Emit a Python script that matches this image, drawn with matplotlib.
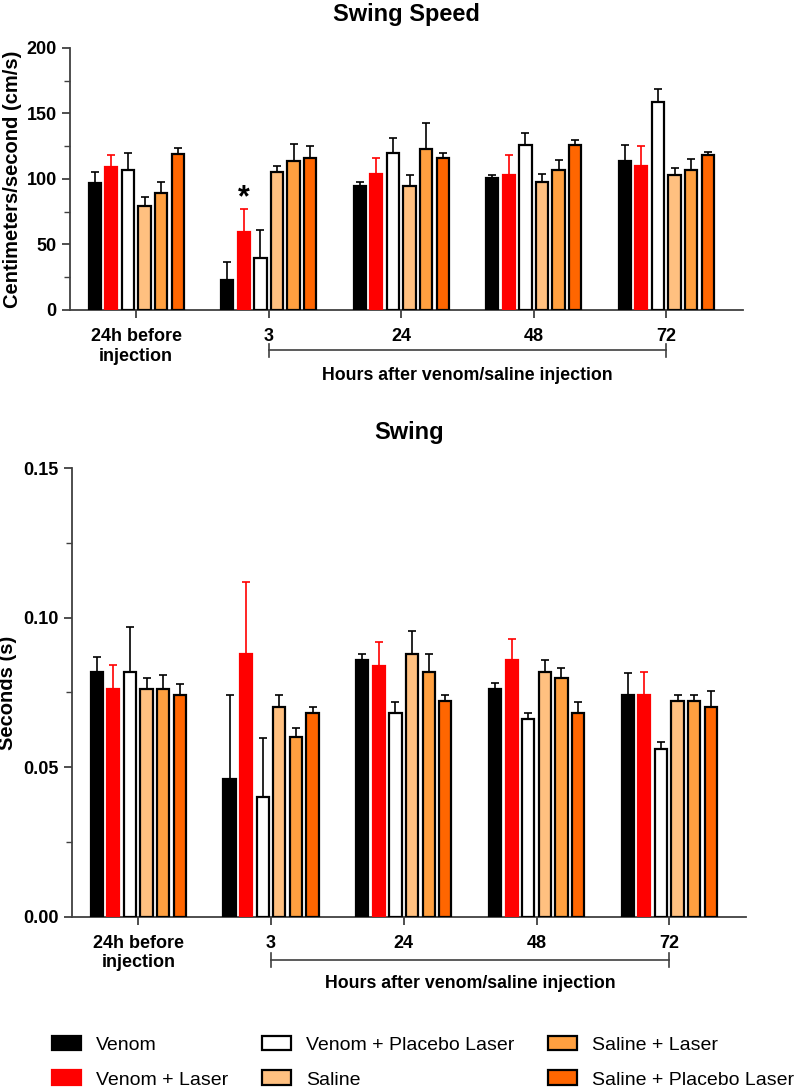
import matplotlib
matplotlib.use("Agg")
import matplotlib.pyplot as plt
import numpy as np
from matplotlib.transforms import blended_transform_factory
from matplotlib.patches import Patch

plt.rcParams['font.family'] = ['Liberation Sans', 'DejaVu Sans']

groups = ["24h before\ninjection", "3", "24", "48", "72"]
series = ["Venom", "Venom + Laser", "Venom + Placebo Laser", "Saline",
          "Saline + Laser", "Saline + Placebo Laser"]
colors = ["#000000", "#FF0000", "#FFFFFF", "#FFC080", "#FFA040", "#FF6600"]
edges = ["#000000", "#FF0000", "#000000", "#000000", "#000000", "#000000"]
errcolors = ["#000000", "#FF0000", "#000000", "#000000", "#000000", "#000000"]

# Swing speed (cm/s): rows = series, cols = groups
speed = [
    [97, 23, 95, 100.6, 113.6],
    [109, 59.4, 104, 103, 110],
    [107, 40, 120, 126, 158.5],
    [79.7, 105, 95, 97.6, 103],
    [89, 114, 122.5, 107, 106.5],
    [119, 116, 116, 126, 118],
]
speed_err = [
    [8.5, 13.5, 3, 2.4, 12],
    [9.5, 17.6, 12, 15, 14.8],
    [13, 21, 11, 9, 10.5],
    [6.3, 5, 8, 6.4, 5.5],
    [8.6, 13, 20, 7.6, 8.5],
    [5, 9, 4, 4, 2.7],
]
# Swing (s)
swing = [
    [0.082, 0.046, 0.086, 0.076, 0.074],
    [0.076, 0.088, 0.084, 0.086, 0.074],
    [0.082, 0.040, 0.068, 0.066, 0.056],
    [0.076, 0.070, 0.088, 0.082, 0.072],
    [0.076, 0.060, 0.082, 0.080, 0.072],
    [0.074, 0.068, 0.072, 0.068, 0.070],
]
swing_err = [
    [0.0048, 0.028, 0.002, 0.0023, 0.0075],
    [0.0082, 0.024, 0.008, 0.0069, 0.008],
    [0.015, 0.0197, 0.0037, 0.0023, 0.0024],
    [0.004, 0.0043, 0.0074, 0.0038, 0.002],
    [0.005, 0.003, 0.0058, 0.0031, 0.002],
    [0.004, 0.002, 0.002, 0.0037, 0.0054],
]

fig = plt.figure(figsize=(7.99, 10.90), dpi=100)
ax1 = fig.add_axes([0.0876, 0.7156, 0.8424, 0.2404])
ax2 = fig.add_axes([0.090, 0.159, 0.844, 0.4114])

x = np.arange(len(groups))
step = 0.125
width = 0.092
spine_c = "#404040"


def draw(ax, vals, errs):
    for i in range(len(series)):
        off = (i - 2.5) * step
        ax.bar(x + off, vals[i], width, color=colors[i], edgecolor=edges[i],
               linewidth=1.6, zorder=3)
        ax.errorbar(x + off, vals[i], yerr=[np.zeros(len(groups)), errs[i]],
                    fmt='none', ecolor=errcolors[i], elinewidth=1.2,
                    capsize=3, capthick=1.2, zorder=2)
    for s in ['top', 'right']:
        ax.spines[s].set_visible(False)
    for s in ['left', 'bottom']:
        ax.spines[s].set_color(spine_c)
        ax.spines[s].set_linewidth(1.3)
    ax.set_xticks(x)
    ax.set_xticklabels(groups, fontweight='bold', fontsize=13)
    ax.tick_params(axis='x', length=6, width=1.3, color=spine_c, pad=7)
    ax.tick_params(axis='y', which='major', length=6, width=1.3, color=spine_c,
                   labelsize=13)
    ax.tick_params(axis='y', which='minor', length=4, width=1.0, color=spine_c)
    ax.set_xlim(-0.5, 4.58)


def bracket(ax, yb, yt, tick=0.025):
    tr = blended_transform_factory(ax.transData, ax.transAxes)
    ax.plot([1, 4], [yb, yb], transform=tr, color=spine_c, lw=1.2, clip_on=False)
    for xx in (1, 4):
        ax.plot([xx, xx], [yb - tick, yb + tick], transform=tr, color=spine_c,
                lw=1.2, clip_on=False)
    ax.text(2.5, yt, "Hours after venom/saline injection", transform=tr,
            ha='center', va='center', fontweight='bold', fontsize=12.8)


draw(ax1, speed, speed_err)
ax1.set_ylim(0, 200)
ax1.set_yticks([0, 50, 100, 150, 200])
ax1.set_yticks([25, 75, 125, 175], minor=True)
for lab in ax1.get_yticklabels():
    lab.set_fontweight('bold')
ax1.set_ylabel("Centimeters/second (cm/s)", fontweight='bold', fontsize=14.5)
ax1.yaxis.set_label_coords(-0.072, 0.5)
fig.text(406.5 / 799, 1 - 14 / 1090, "Swing Speed", ha='center', va='center',
         fontweight='bold', fontsize=17)
ax1.text(1 - 1.5 * step, 85, "*", ha='center', va='center', fontsize=22,
         fontweight='bold')
bracket(ax1, -0.153, -0.25)

draw(ax2, swing, swing_err)
ax2.set_ylim(0, 0.15)
ax2.set_yticks([0, 0.05, 0.10, 0.15])
ax2.set_yticklabels(["0.00", "0.05", "0.10", "0.15"])
ax2.set_yticks([0.025, 0.075, 0.125], minor=True)
for lab in ax2.get_yticklabels():
    lab.set_fontweight('bold')
ax2.set_ylabel("Seconds (s)", fontweight='bold', fontsize=14.5)
ax2.yaxis.set_label_coords(-0.081, 0.5)
fig.text(409 / 799, 1 - 432 / 1090, "Swing", ha='center', va='center',
         fontweight='bold', fontsize=17)
bracket(ax2, -0.097, -0.148, tick=0.015)

handles = [Patch(facecolor=colors[i], edgecolor='#000000' if i != 1 else '#FF0000',
                 linewidth=1.6) for i in range(len(series))]
leg = fig.legend(handles, series, loc='upper left', bbox_to_anchor=(0.043, 0.066),
                 ncol=3, frameon=False, fontsize=14, handlelength=1.5,
                 handleheight=0.8, columnspacing=1.75, labelspacing=0.86,
                 handletextpad=0.75)

fig.savefig("out.png", dpi=100)
